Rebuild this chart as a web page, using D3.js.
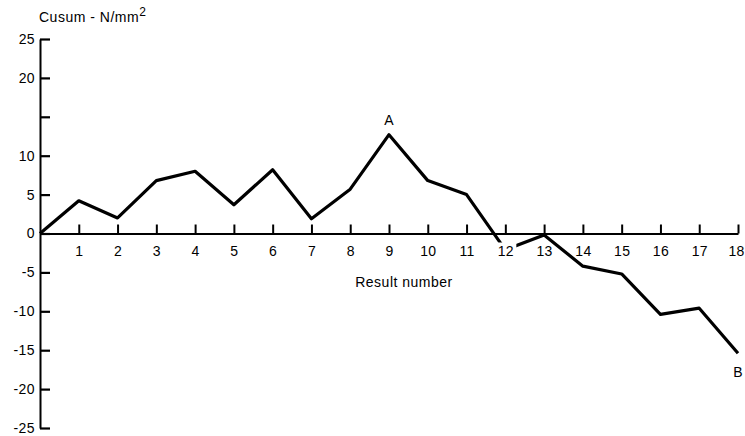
<!DOCTYPE html>
<html>
<head>
<meta charset="utf-8">
<script src="https://cdn.jsdelivr.net/npm/d3@7"></script>
<style>
body { margin:0; background:#fff; }
text { font-family:"Liberation Sans", Arial, sans-serif; fill:#000; }
</style>
</head>
<body>
<svg width="745" height="436"></svg>
<script>
var results = [0,1,2,3,4,5,6,7,8,9,10,11,12,13,14,15,16,17,18];
var cusum   = [0,4.2,2.0,6.8,8.0,3.7,8.2,1.9,5.7,12.7,6.8,5.0,-2.1,-0.2,-4.2,-5.2,-10.4,-9.6,-15.4];
var yTicks  = [-25,-20,-15,-10,-5,0,5,10,15,20,25];
var xTicks  = [1,2,3,4,5,6,7,8,9,10,11,12,13,14,15,16,17,18];
var hiddenY = [15];
var marks   = [{ label:"A", at:9, pos:"above" }, { label:"B", at:18, pos:"below" }];

var svg = d3.select("svg");

var x = d3.scaleLinear().domain([0,18]).range([40,738]);
var y = d3.scaleLinear().domain([-25,25]).range([428,39]);

// the line
var line = d3.line()
	.x(function(d,i){ return x(results[i]) })
	.y(function(d){ return y(d) });

svg.append("path")
	.datum(cusum)
	.attr("fill","none")
	.attr("stroke","#000")
	.attr("stroke-width",3.2)
	.attr("stroke-linejoin","round")
	.attr("d", line);

// white patch so the line breaks around the "12" label
svg.append("rect")
	.attr("x", x(12)-8).attr("y", y(0)+9)
	.attr("width", 19).attr("height", 18)
	.attr("fill","#fff");

// y axis
var yAxis = svg.append("g")
	.attr("transform","translate("+x(0)+",0)")
	.call(d3.axisLeft(y).tickValues(yTicks).tickSizeInner(-10).tickSizeOuter(0).tickPadding(5)
		.tickFormat(function(d){ return hiddenY.indexOf(d) >= 0 ? "" : String(d) }));
yAxis.select(".domain").attr("stroke-width",2);
yAxis.selectAll(".tick line").attr("stroke-width",2.2);
yAxis.selectAll("text").style("font-size","14px").style("letter-spacing","0.4px").attr("fill","#000").style("font-family",null);

// x axis
var xAxis = svg.append("g")
	.attr("transform","translate(0,"+y(0)+")")
	.call(d3.axisBottom(x).tickValues(xTicks).tickSizeInner(-9).tickSizeOuter(0).tickPadding(13));
xAxis.select(".domain").attr("stroke-width",2);
xAxis.selectAll(".tick line").attr("stroke-width",2);
xAxis.selectAll("text").style("font-size","14px").style("letter-spacing","0.3px").attr("fill","#000").style("font-family",null);
// last label sits against the page edge
xAxis.selectAll("text").filter(function(d){ return d == 18 }).attr("dx", -2);

// labels A, B
svg.selectAll(".mark").data(marks).enter().append("text")
	.attr("x", function(d){ return x(d.at) })
	.attr("y", function(d){ return d.pos=="above" ? y(cusum[d.at])-10 : y(cusum[d.at])+24 })
	.attr("text-anchor","middle")
	.style("font-size","14px")
	.text(function(d){ return d.label });

svg.append("text")
	.attr("x", 404).attr("y", 287)
	.attr("text-anchor","middle")
	.style("font-size","14px")
	.style("letter-spacing","0.5px")
	.text("Result number");

var title = svg.append("text")
	.attr("x", 39).attr("y", 22)
	.style("font-size","14px")
	.style("letter-spacing","0.5px");
title.append("tspan").text("Cusum - N/mm");
title.append("tspan").attr("dy",-6).style("font-size","12px").text("2");
</script>
</body>
</html>
